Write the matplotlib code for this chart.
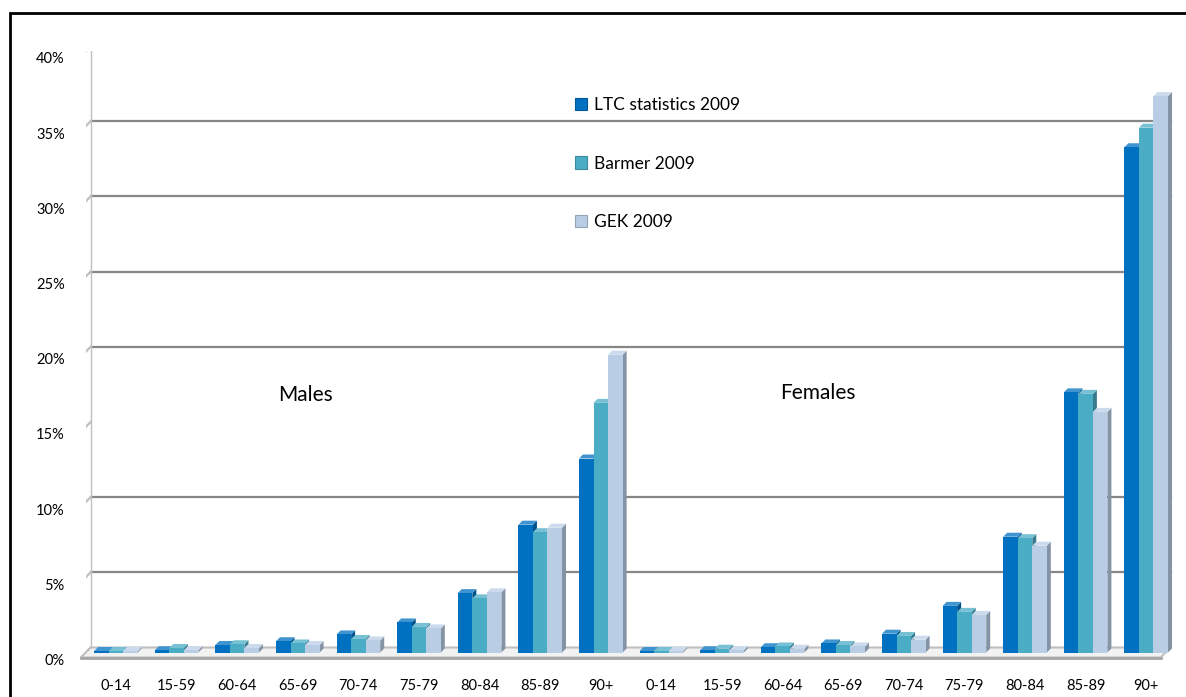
import matplotlib
matplotlib.use("Agg")
import matplotlib.pyplot as plt
from matplotlib.patches import Polygon, Rectangle, Patch
from matplotlib.transforms import ScaledTranslation
import matplotlib.colors as mcolors

# data (share of persons in need of care, %)
age_groups = ["0-14", "15-59", "60-64", "65-69", "70-74", "75-79", "80-84", "85-89", "90+"]
categories = age_groups + age_groups  # males first, then females
series_names = ["LTC statistics 2009", "Barmer 2009", "GEK 2009"]
ltc_2009 = [0.1, 0.15, 0.5, 0.75, 1.2, 2.0, 3.95, 8.5, 12.9,
            0.1, 0.15, 0.35, 0.6, 1.25, 3.1, 7.7, 17.3, 33.6]
barmer_2009 = [0.1, 0.3, 0.55, 0.6, 0.9, 1.7, 3.6, 8.0, 16.6,
               0.1, 0.25, 0.4, 0.5, 1.1, 2.7, 7.6, 17.2, 34.9]
gek_2009 = [0.1, 0.15, 0.3, 0.5, 0.8, 1.6, 4.0, 8.3, 19.8,
            0.1, 0.15, 0.25, 0.4, 0.85, 2.5, 7.1, 16.0, 37.0]
y_ticks = [0, 5, 10, 15, 20, 25, 30, 35, 40]
grid_levels = [5, 10, 20, 25, 30, 35, 40]  # the 15% line is not drawn in the original

colors = ["#0070C0", "#4BACC6", "#B9CDE5"]
grid_col = "#868686"
wall_col = "#BFBFBF"
font = ["Lato", "DejaVu Sans"]

fig = plt.figure(figsize=(11.86, 6.97), dpi=100)
W, H = 1186, 697
ax = fig.add_axes([85.7 / W, (H - 652.5) / H, 1090.8 / W, (652.5 - 51) / H])
ax.set_xlim(-0.5, 17.5)
ax.set_ylim(0, 40)
for s in ax.spines.values():
    s.set_visible(False)

# pixel -> data helpers for the fake 3d depth
px_x = 18.0 / 1090.8
px_y = 40.0 / 601.5
d = 5  # half depth of the wall/floor in px
x_end = 17.32

# back wall gridlines with the little diagonal at the left
for g in grid_levels:
    ax.plot([-0.5 + d * px_x, x_end + d * px_x], [g + d * px_y] * 2, color=grid_col, lw=1.6, zorder=1)
for g in y_ticks:
    ax.plot([-0.5 - d * px_x, -0.5 + d * px_x], [g - d * px_y, g + d * px_y], color=wall_col, lw=1.6, zorder=1)
# left wall edge
ax.plot([-0.5 - d * px_x] * 2, [-d * px_y, 40 - d * px_y], color=wall_col, lw=2, zorder=1)
ax.plot([-0.5 + d * px_x] * 2, [d * px_y, 40 + d * px_y], color=wall_col, lw=1, zorder=1)
# floor
floor = Polygon([(-0.5 - d * px_x, -d * px_y), (x_end - d * px_x, -d * px_y),
                 (x_end + d * px_x, d * px_y), (-0.5 + d * px_x, d * px_y)],
                closed=True, facecolor="#F2F2F2", edgecolor=wall_col, lw=1.5, zorder=1, clip_on=False)
ax.add_patch(floor)
ax.plot([-0.5 - d * px_x, x_end - d * px_x], [-d * px_y] * 2, color="#A6A6A6", lw=2, zorder=1, clip_on=False)


def shade(c, f):
    r, g, b = mcolors.to_rgb(c)
    if f < 1:
        return (r * f, g * f, b * f)
    return (r + (1 - r) * (f - 1), g + (1 - g) * (f - 1), b + (1 - b) * (f - 1))


# bars, drawn left to right so the front of each bar covers the side of the previous one
w = 0.24
dx = 4 * px_x
dy = 4 * px_y
all_series = [ltc_2009, barmer_2009, gek_2009]
z = 3
for i in range(len(categories)):
    for k, vals in enumerate(all_series):
        v = vals[i]
        x = i + (k - 1) * w
        xl, xr = x - w / 2, x + w / 2
        side = Polygon([(xr, 0), (xr + dx, dy), (xr + dx, v + dy), (xr, v)],
                       closed=True, facecolor=shade(colors[k], 0.72), edgecolor="none", zorder=z, clip_on=False)
        top = Polygon([(xl, v), (xl + dx, v + dy), (xr + dx, v + dy), (xr, v)],
                      closed=True, facecolor=shade(colors[k], 1.25), edgecolor="none", zorder=z, clip_on=False)
        ax.add_patch(side)
        ax.add_patch(top)
        ax.bar(x, v, width=w, color=colors[k], zorder=z + 0.5, clip_on=False)
        z += 1

# ticks
ax.set_xticks(range(len(categories)))
ax.set_xticklabels(categories, fontsize=10.5, family=font)
ax.set_yticks(y_ticks)
ax.set_yticklabels([f"{t}%" for t in y_ticks], fontsize=10.5, family=font)
ax.tick_params(axis="both", length=0)
ax.tick_params(axis="x", pad=19)
ax.tick_params(axis="y", pad=15)
for lbl in ax.get_yticklabels():
    lbl.set_transform(lbl.get_transform() + ScaledTranslation(0, -5 / 72, fig.dpi_scale_trans))

# group labels
fig.text(305 / W, (H - 395) / H, "Males", fontsize=15, family=font, ha="center", va="center")
fig.text(818 / W, (H - 393) / H, "Females", fontsize=15, family=font, ha="center", va="center")

# legend
handles = [Patch(facecolor=c, edgecolor=shade(c, 0.8), lw=0.8) for c in colors]
fig.legend(handles, series_names, loc="upper left", bbox_to_anchor=(575 / W, (H - 97) / H),
           frameon=False, prop={"family": font, "size": 12.5}, handlelength=0.7, handleheight=0.7,
           handletextpad=0.4, labelspacing=2.45, borderpad=0, borderaxespad=0)

# black frame around the figure area (open to the right and bottom)
fig.patches.append(Rectangle((10 / W, -0.1), 1.2, (H - 13) / H + 0.1, transform=fig.transFigure,
                             fill=False, edgecolor="black", lw=2))

fig.savefig("out.png", dpi=100)
